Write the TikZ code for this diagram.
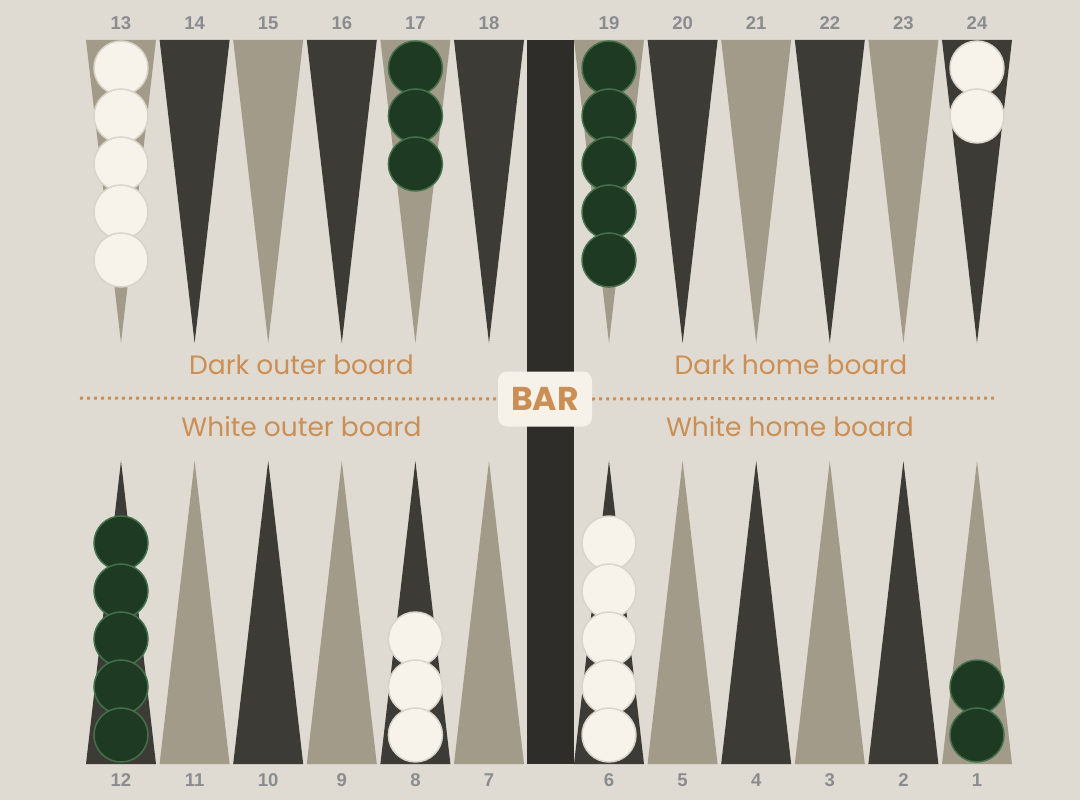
\documentclass[tikz,border=0pt]{standalone}
\usepackage{fontspec}
\setmainfont{Poppins}
\newfontfamily\numfont{Liberation Sans}
\usepackage{tikz}
\usetikzlibrary{positioning}

\definecolor{boardbg}{HTML}{DFDBD2}
\definecolor{darkpt}{HTML}{3D3B36}
\definecolor{lightpt}{HTML}{A39B89}
\definecolor{barcol}{HTML}{2F2D29}
\definecolor{chkwhite}{HTML}{F7F3EA}
\definecolor{chkwhiteline}{HTML}{D9D4CA}
\definecolor{chkgreen}{HTML}{1E3A22}
\definecolor{chkgreenline}{HTML}{44704B}
\definecolor{labelcol}{HTML}{CB8F55}
\definecolor{numcol}{HTML}{8A8C90}
\definecolor{barbox}{HTML}{F6F1E9}

\begin{document}
\begin{tikzpicture}[x=1pt,y=-1pt,
			every node/.style={inner sep=0pt},
			ptnum/.style={font=\numfont\bfseries\fontsize{18.5}{20}\selectfont,text=numcol},
			region/.style={font=\fontsize{26.5}{30}\selectfont,text=labelcol,anchor=base},
			whitechk/.style={circle,minimum size=54pt,fill=chkwhite,draw=chkwhiteline,line width=1.5pt},
			greenchk/.style={circle,minimum size=54pt,fill=chkgreen,draw=chkgreenline,line width=1.5pt},
			dotline/.style={labelcol,line width=3pt,dash pattern=on 3pt off 4pt}]
			\useasboundingbox[fill=boardbg] (0,0) rectangle (1080,800);
			
			% bar
			\fill[barcol] (527,40) rectangle (574,764);
			
			% points, top and bottom
			\foreach \i in {0,...,5} {
				\pgfmathsetmacro{\xl}{86+73.6*\i}
				\pgfmathsetmacro{\xr}{574+73.6*\i}
				\pgfmathtruncatemacro{\odd}{mod(\i,2)}
				\ifnum\odd=0
					\def\topc{lightpt}\def\botc{darkpt}
				\else
					\def\topc{darkpt}\def\botc{lightpt}
				\fi
				\fill[\topc] (\xl,40) -- (\xl+70,40) -- (\xl+35,343) -- cycle;
				\fill[\topc] (\xr,40) -- (\xr+70,40) -- (\xr+35,343) -- cycle;
				\fill[\botc] (\xl,764) -- (\xl+70,764) -- (\xl+35,461) -- cycle;
				\fill[\botc] (\xr,764) -- (\xr+70,764) -- (\xr+35,461) -- cycle;
				\pgfmathtruncatemacro{\ntl}{13+\i}
				\pgfmathtruncatemacro{\ntr}{19+\i}
				\pgfmathtruncatemacro{\nbl}{12-\i}
				\pgfmathtruncatemacro{\nbr}{6-\i}
				\node[ptnum] (n\ntl) at (\xl+35,23) {\ntl};
				\node[ptnum] (n\ntr) at (\xr+35,23) {\ntr};
				\node[ptnum] (n\nbl) at (\xl+35,780) {\nbl};
				\node[ptnum] (n\nbr) at (\xr+35,780) {\nbr};
			}
			
			% checkers
			\foreach \y [count=\k] in {68,116,164,212,260} {
				\node[whitechk] (w13-\k) at (121,\y) {};
				\node[greenchk] (g19-\k) at (609,\y) {};
			}
			\foreach \y [count=\k] in {68,116,164} \node[greenchk] (g17-\k) at (415.4,\y) {};
			\foreach \y [count=\k] in {68,116} \node[whitechk] (w24-\k) at (977,\y) {};
			\foreach \y [count=\k] in {543,591,639,687,735} {
				\node[greenchk] (g12-\k) at (121,\y) {};
				\node[whitechk] (w6-\k) at (609,\y) {};
			}
			\foreach \y [count=\k] in {639,687,735} \node[whitechk] (w8-\k) at (415.4,\y) {};
			\foreach \y [count=\k] in {687,735} \node[greenchk] (g1-\k) at (977,\y) {};
			
			% middle line and bar label
			\node[fill=barbox,rounded corners=9pt,minimum width=94pt,minimum height=55pt,
				text=labelcol,font=\bfseries\fontsize{33}{36}\selectfont] (bar) at (545,399) {BAR};
			\coordinate (dl) at (80,398);
			\coordinate (dr) at (997,398);
			\draw[dotline] (dl) -- (bar.west);
			\draw[dotline] (bar.east) -- (dr);
			
			\node[region] (darkouter) at (301.5,374) {Dark outer board};
			\node[region] (darkhome) at (791,374) {Dark home board};
			\node[region] (whiteouter) at (301.5,436) {White outer board};
			\node[region] (whitehome) at (790,436) {White home board};
		\end{tikzpicture}
\end{document}
